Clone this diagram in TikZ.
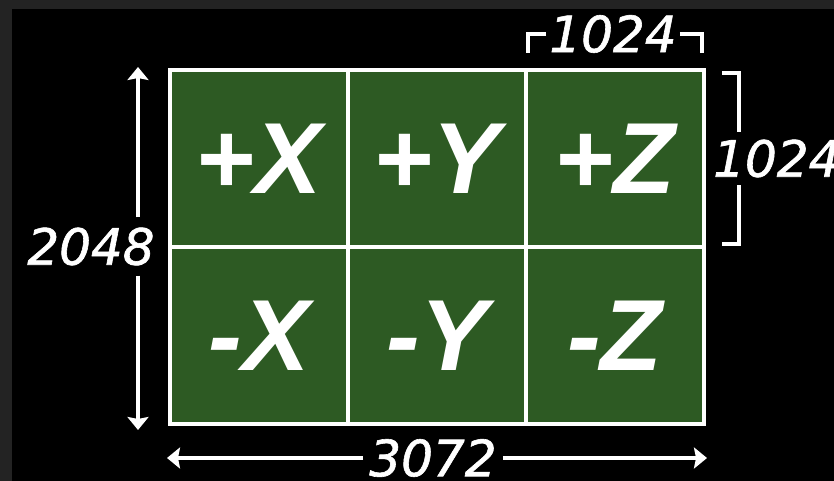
\documentclass[tikz,border=0pt]{standalone}
\usepackage{fontspec}
\usepackage{tikz}
\usetikzlibrary{positioning,arrows.meta,calc}
\newfontfamily\facefont{Liberation Sans}
\newfontfamily\dimfont[FakeBold=1.2]{DejaVu Sans}
\definecolor{facegreen}{RGB}{45,90,35}
\definecolor{framegray}{RGB}{35,35,35}

\begin{document}
\begin{tikzpicture}[x=1pt,y=-1pt,
    face/.style={draw=white,line width=4pt,fill=facegreen,text=white,outer sep=0pt,
      minimum width=178pt,minimum height=177pt,
      font=\facefont\bfseries\itshape\fontsize{101}{101}\selectfont},
    dimlabel/.style={text=white,inner sep=0pt,
      font=\dimfont\itshape\fontsize{50}{50}\selectfont},
    dimline/.style={white,line width=3.5pt},
    dimarrow/.style={dimline,-{Stealth[length=13pt,width=21pt,inset=2pt]}},
  ]
  % Canvas: black, grey edge at top and left
  \useasboundingbox (0,0) rectangle (834,481);
  \fill[black] (0,0) rectangle (834,481);
  \fill[framegray] (0,0) rectangle (834,9);
  \fill[framegray] (0,0) rectangle (12,481);

  % Faces: top row +, bottom row -
  \foreach \x/\name/\lbl in {259/px/+X, 437/py/+Y, 615/pz/+Z}
    \node[face] (\name) at (\x,158.5) {\lbl};
  \foreach \x/\name/\lbl in {259/mx/-X, 437/my/-Y, 615/mz/-Z}
    \node[face] (\name) at (\x,335.5) {\lbl};

  % One face, width
  \node[dimlabel,inner xsep=3pt] (wface) at (613,34) {1024};
  \draw[dimline] (wface.west) -| ([xshift=2pt,yshift=17pt]pz.north west);
  \draw[dimline] (wface.east) -| ([xshift=-2pt,yshift=17pt]pz.north east);

  % One face, height
  \node[dimlabel,anchor=west,inner ysep=7pt] (hface) at ([xshift=9pt]pz.east) {1024};
  \coordinate (hbar) at ([xshift=35pt]pz.east);
  \draw[dimline] ([xshift=18pt,yshift=-3pt]pz.north east) -| (hbar |- hface.north);
  \draw[dimline] ([xshift=18pt,yshift=3pt]pz.south east) -| (hbar |- hface.south);

  % Whole map, height
  \node[dimlabel,inner ysep=10pt] (hfull) at (91,246.5) {2048};
  \coordinate (htop) at ([xshift=-32pt,yshift=3pt]px.north west);
  \coordinate (hbot) at ([xshift=-32pt,yshift=-6pt]mx.south west);
  \draw[dimarrow] (hfull.north -| htop) -- (htop);
  \draw[dimarrow] (hfull.south -| hbot) -- (hbot);

  % Whole map, width
  \node[dimlabel,inner xsep=6pt] (wfull) at (433,458) {3072};
  \coordinate (wleft) at ([xshift=-3pt,yshift=-36pt]mx.south west);
  \coordinate (wright) at ([xshift=3pt,yshift=-36pt]mz.south east);
  \draw[dimarrow] (wfull.west) -- (wfull.west -| wleft);
  \draw[dimarrow] (wfull.east) -- (wfull.east -| wright);
\end{tikzpicture}
\end{document}
